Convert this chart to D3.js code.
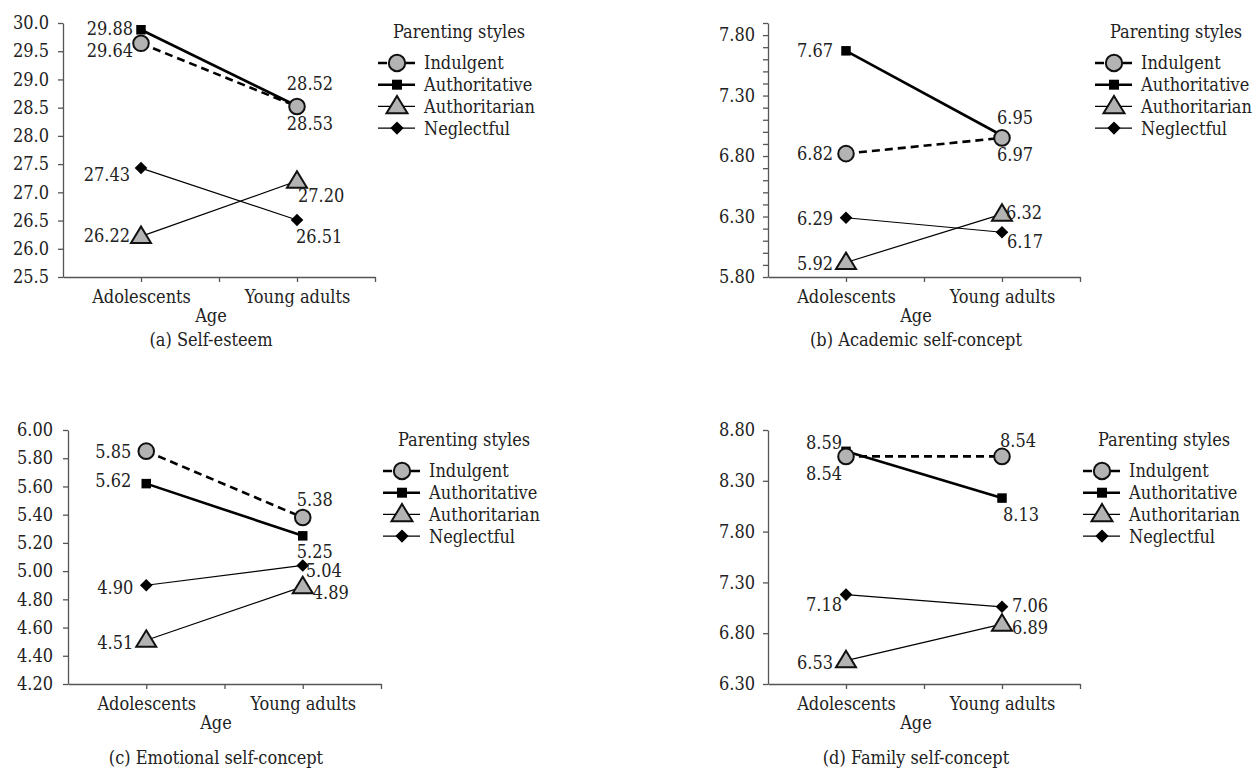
<!DOCTYPE html>
<html>
<head>
<meta charset="utf-8">
<script src="https://cdn.jsdelivr.net/npm/d3@7"></script>
<style>
  html, body { margin: 0; padding: 0; background: #fff; }
  svg { display: block; }
  text {
    font-family: "DejaVu Serif Condensed", "DejaVu Serif", serif;
    font-stretch: condensed;
    font-size: 18px;
    fill: #222;
  }
  .axis path, .axis line { stroke: #555; stroke-width: 1.3; }
</style>
</head>
<body>
<div id="chart"></div>
<script>
// Data
const ages = ["Adolescents", "Young adults"];
const styles = ["Indulgent", "Authoritative", "Authoritarian", "Neglectful"];
const panelTitles = ["(a) Self-esteem", "(b) Academic self-concept",
  "(c) Emotional self-concept", "(d) Family self-concept"];

// rows follow `styles`, columns follow `ages`
const selfEsteem = [[29.64, 28.52], [29.88, 28.53], [26.22, 27.20], [27.43, 26.51]];
const academic   = [[6.82, 6.95], [7.67, 6.97], [5.92, 6.32], [6.29, 6.17]];
const emotional  = [[5.85, 5.38], [5.62, 5.25], [4.51, 4.89], [4.90, 5.04]];
const family     = [[8.54, 8.54], [8.59, 8.13], [6.53, 6.89], [7.18, 7.06]];

const ticksA = [25.5, 26.0, 26.5, 27.0, 27.5, 28.0, 28.5, 29.0, 29.5, 30.0];
const ticksB = [5.80, 6.30, 6.80, 7.30, 7.80];
const ticksC = [4.20, 4.40, 4.60, 4.80, 5.00, 5.20, 5.40, 5.60, 5.80, 6.00];
const ticksD = [6.30, 6.80, 7.30, 7.80, 8.30, 8.80];

// Layout (positions only, no data)
const W = 1256, H = 774;
const panels = [
  { values: selfEsteem, ticks: ticksA, tickFmt: ".1f", domain: [25.5, 30.0], minor: null,
    x0: 63, x1: 375, top: 23, bottom: 277, pad: 9, legend: [378, 63], title: 346,
    // [dx, dy, anchor] for each style, each age
    labels: [[[-8, 7, "end"], [13, -23, "middle"]],
             [[-8, -1, "end"], [13, 18, "middle"]],
             [[-11, -1, "end"], [1, 14, "start"]],
             [[-11, 6, "end"], [-1, 17, "start"]]] },
  { values: academic, ticks: ticksB, tickFmt: ".2f", domain: [5.8, 7.9], minor: 0.1,
    x0: 768, x1: 1080, top: 23, bottom: 277, pad: 8, legend: [1095, 63], title: 346,
    labels: [[[-13, 0, "end"], [13, -20, "middle"]],
             [[-13, 0, "end"], [13, 19, "middle"]],
             [[-13, 1, "end"], [4, -2, "start"]],
             [[-13, 1, "end"], [5, 9, "start"]]] },
  { values: emotional, ticks: ticksC, tickFmt: ".2f", domain: [4.2, 6.0], minor: null,
    x0: 68, x1: 381, top: 430, bottom: 684, pad: 10, legend: [383, 471], title: 764,
    labels: [[[-15, 0, "end"], [12, -18, "middle"]],
             [[-15, -3, "end"], [12, 16, "middle"]],
             [[-13, 2, "end"], [10, 6, "start"]],
             [[-13, 2, "end"], [3, 5, "start"]]] },
  { values: family, ticks: ticksD, tickFmt: ".2f", domain: [6.3, 8.8], minor: null,
    x0: 768, x1: 1080, top: 430, bottom: 684, pad: 8, legend: [1083, 471], title: 764,
    labels: [[[-4, 17, "end"], [-2, -16, "start"]],
             [[-4, -9, "end"], [1, 16, "start"]],
             [[-13, 2, "end"], [10, 3, "start"]],
             [[-4, 10, "end"], [10, -1, "start"]]] }
];

// category slots on a 0..4 axis: Adolescents at 1, Young adults at 3
const agePos = [1, 3];
const valueFmt = d3.format(".2f");

const lineStyle = [
  { width: 2.6, dash: "8,5" },
  { width: 2.6, dash: null },
  { width: 1.2, dash: null },
  { width: 1.2, dash: null }
];

const svg = d3.select("#chart").append("svg")
  .attr("width", W).attr("height", H)
  .attr("viewBox", `0 0 ${W} ${H}`);

svg.append("rect").attr("width", W).attr("height", H).attr("fill", "#fff");

function drawMarker(g, i, x, y, big) {
  const k = big ? 1.05 : 1;
  if (i === 0) {
    g.append("circle").attr("cx", x).attr("cy", y).attr("r", 7.8 * k)
      .attr("fill", "#b3b3b3").attr("stroke", "#111").attr("stroke-width", 2);
  } else if (i === 1) {
    const s = 9.5 * k;
    g.append("rect").attr("x", x - s / 2).attr("y", y - s / 2)
      .attr("width", s).attr("height", s).attr("fill", "#000");
  } else if (i === 2) {
    const w = 20 * k, h = 16.5 * k;
    g.append("path")
      .attr("d", `M${x},${y - h * 0.6}L${x + w / 2},${y + h * 0.4}L${x - w / 2},${y + h * 0.4}Z`)
      .attr("fill", "#b3b3b3").attr("stroke", "#111").attr("stroke-width", 2)
      .attr("stroke-linejoin", "miter");
  } else {
    const r = 6.3 * k;
    g.append("path")
      .attr("d", `M${x},${y - r}L${x + r},${y}L${x},${y + r}L${x - r},${y}Z`)
      .attr("fill", "#000");
  }
}

panels.forEach((p, pi) => {
  const g = svg.append("g");
  const x = d3.scaleLinear().domain([0, 4]).range([p.x0, p.x1]);
  const y = d3.scaleLinear().domain(p.domain).range([p.bottom, p.top]);
  const fmt = d3.format(p.tickFmt);

  // y axis
  let yTickVals = p.ticks;
  if (p.minor) {
    const n = Math.round((p.domain[1] - p.domain[0]) / p.minor);
    yTickVals = d3.range(n + 1).map(i => +(p.domain[0] + i * p.minor).toFixed(2));
  }
  const yAxis = d3.axisLeft(y)
    .tickValues(yTickVals)
    .tickSize(5).tickSizeOuter(0).tickPadding(p.pad)
    .tickFormat(d => p.ticks.some(t => Math.abs(t - d) < 1e-6) ? fmt(d) : "");
  g.append("g").attr("class", "axis")
    .attr("transform", `translate(${p.x0},0)`)
    .call(yAxis)
    .call(a => a.selectAll("text").attr("font-size", null).attr("font-family", null));

  // x axis
  const xAxis = d3.axisBottom(x)
    .tickValues([1, 2, 3, 4])
    .tickSize(5).tickSizeOuter(0).tickPadding(8)
    .tickFormat(d => agePos.indexOf(d) >= 0 ? ages[agePos.indexOf(d)] : "");
  g.append("g").attr("class", "axis")
    .attr("transform", `translate(0,${p.bottom})`)
    .call(xAxis)
    .call(a => a.selectAll("text").attr("font-size", null).attr("font-family", null));
  g.selectAll(".axis .domain").attr("stroke", "#555");

  // axis title and panel caption
  g.append("text").attr("x", p.x0 + 148).attr("y", p.bottom + 45)
    .attr("text-anchor", "middle").text("Age");
  g.append("text").attr("x", p.x0 + 148).attr("y", p.title)
    .attr("text-anchor", "middle").text(panelTitles[pi]);

  // lines
  const line = d3.line().x(d => x(d[0])).y(d => y(d[1]));
  p.values.forEach((vals, si) => {
    const st = lineStyle[si];
    g.append("path")
      .datum(vals.map((v, ai) => [agePos[ai], v]))
      .attr("d", line)
      .attr("fill", "none").attr("stroke", "#000")
      .attr("stroke-width", st.width)
      .attr("stroke-dasharray", st.dash);
  });

  // markers (squares under circles)
  [1, 0, 2, 3].forEach(si => {
    p.values[si].forEach((v, ai) => drawMarker(g, si, x(agePos[ai]), y(v), false));
  });

  // value labels
  p.values.forEach((vals, si) => {
    vals.forEach((v, ai) => {
      const [dx, dy, anchor] = p.labels[si][ai];
      g.append("text")
        .attr("x", x(agePos[ai]) + dx)
        .attr("y", y(v) + dy)
        .attr("dy", "0.36em")
        .attr("text-anchor", anchor)
        .text(valueFmt(v));
    });
  });

  // legend
  const [lx, ly] = p.legend;
  const lg = g.append("g");
  lg.append("text").attr("x", lx + 15).attr("y", ly - 25).text("Parenting styles");
  styles.forEach((s, si) => {
    const ry = ly + si * 21.7;
    const st = lineStyle[si];
    lg.append("line")
      .attr("x1", lx).attr("x2", lx + 37).attr("y1", ry).attr("y2", ry)
      .attr("stroke", "#000").attr("stroke-width", st.width)
      .attr("stroke-dasharray", si === 0 ? "9,19" : null);
    drawMarker(lg, si, lx + 19, ry, true);
    lg.append("text").attr("x", lx + 46).attr("y", ry).attr("dy", "0.36em").text(s);
  });
});
</script>
</body>
</html>
